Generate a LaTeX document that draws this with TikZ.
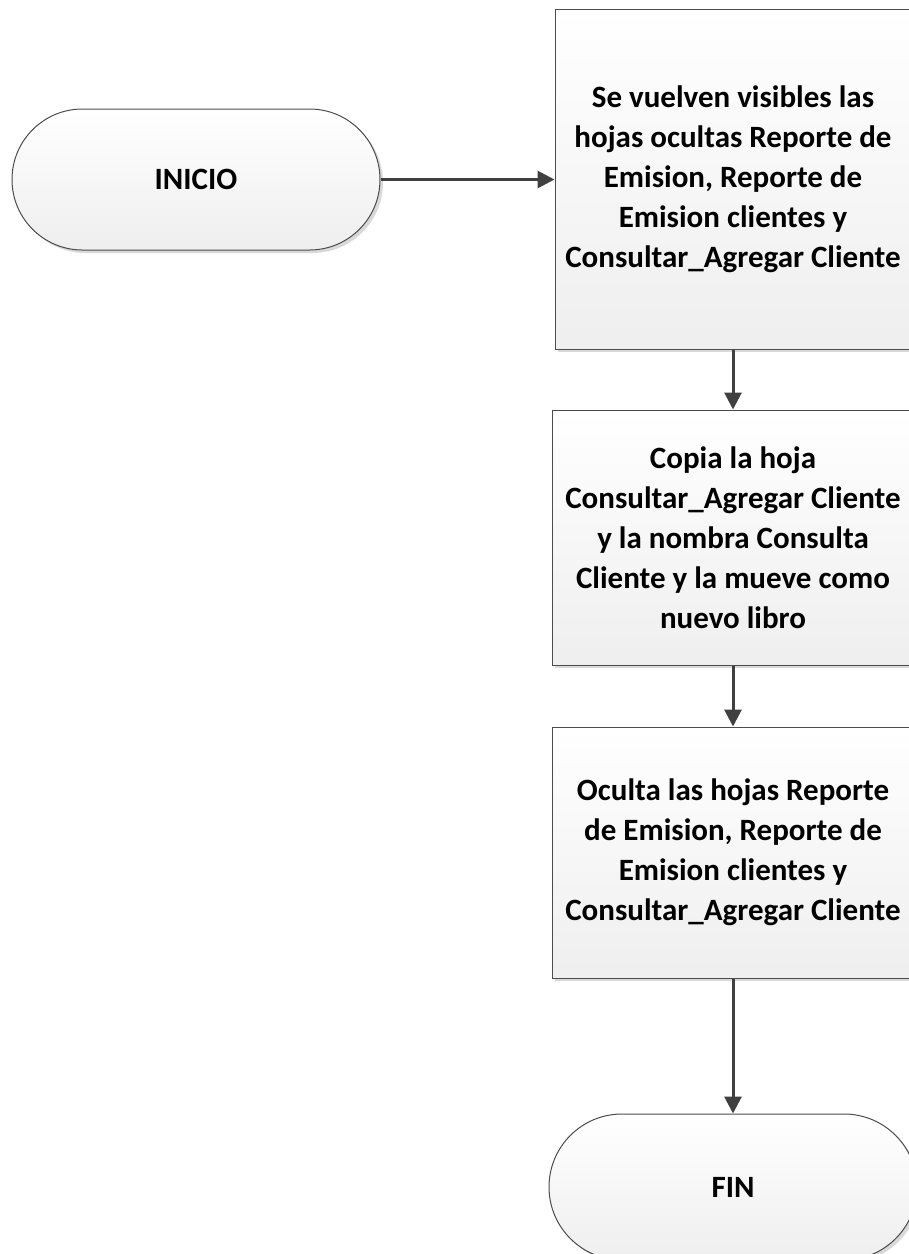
\documentclass[tikz,border=0pt]{standalone}
\usepackage{fontspec}
\setmainfont{Carlito}
\usetikzlibrary{shapes.misc,shadows,arrows.meta}
\tikzset{
  boxfill/.style={shading=axis, top color=white, bottom color=gray!13, shading angle=0,
    draw=black!70, line width=1pt,
    drop shadow={shadow xshift=3pt, shadow yshift=-3pt, fill=black!25, opacity=0.6}},
  process/.style={boxfill, rectangle, minimum width=356pt, inner sep=0pt},
  terminal/.style={boxfill, rounded rectangle, inner sep=0pt},
  label/.style={font=\fontsize{31}{40}\selectfont\bfseries, align=center},
  flow/.style={draw=black!75, line width=3pt,
    -{Triangle[width=17pt,length=17pt]}}
}
\begin{document}
\begin{tikzpicture}[x=1pt,y=-1pt]
\useasboundingbox (0,0) rectangle (909,1254);
\node[terminal, minimum width=368pt, minimum height=141pt, label] (start) at (196,179.5) {INICIO};
\node[process, minimum height=340pt, label] (show) at (733,179)
  {Se vuelven visibles las\\hojas ocultas Reporte de\\Emision, Reporte de\\Emision clientes y\\Consultar\_Agregar Cliente};
\node[process, minimum width=362pt, minimum height=255pt, label] (copy) at (733,537.5)
  {Copia la hoja\\Consultar\_Agregar Cliente\\y la nombra Consulta\\Cliente y la mueve como\\nuevo libro};
\node[process, minimum width=362pt, minimum height=251pt, label] (hide) at (733,852.5)
  {Oculta las hojas Reporte\\de Emision, Reporte de\\Emision clientes y\\Consultar\_Agregar Cliente};
\node[terminal, minimum width=368pt, minimum height=146pt, label] (end) at (733,1187) {FIN};
\draw[flow] (start.east) -- (start.east -| show.west);
\draw[flow] (show.south) -- (copy.north);
\draw[flow] (copy.south) -- (hide.north);
\draw[flow] (hide.south) -- (end.north);
\end{tikzpicture}
\end{document}
